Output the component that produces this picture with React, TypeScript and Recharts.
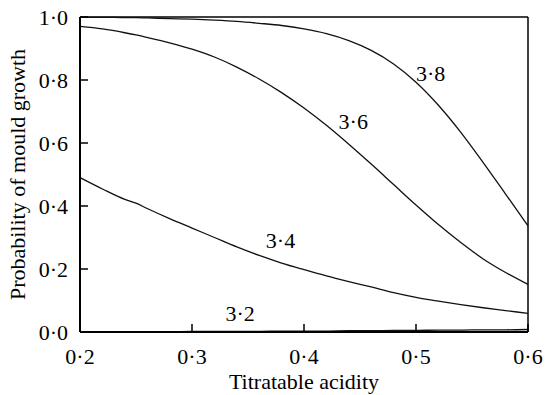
import React from "react";
import {
  LineChart,
  Line,
  XAxis,
  YAxis,
  ReferenceLine,
  ReferenceDot,
} from "recharts";

const acidity = [
  0.2, 0.22, 0.24, 0.25, 0.26, 0.28, 0.3, 0.32, 0.34, 0.36, 0.38, 0.4, 0.42,
  0.44, 0.46, 0.48, 0.5, 0.52, 0.54, 0.56, 0.58, 0.6,
];
const ph38 = [
  0.999, 0.999, 0.998, 0.998, 0.997, 0.995, 0.993, 0.99, 0.986, 0.98, 0.973,
  0.962, 0.947, 0.925, 0.894, 0.851, 0.793, 0.72, 0.634, 0.538, 0.438, 0.337,
];
const ph36 = [
  0.97, 0.962, 0.95, 0.943, 0.935, 0.918, 0.898, 0.873, 0.841, 0.803, 0.76,
  0.711, 0.656, 0.596, 0.533, 0.468, 0.403, 0.341, 0.284, 0.232, 0.189, 0.151,
];
const ph34 = [
  0.49, 0.454, 0.421, 0.409, 0.392, 0.36, 0.33, 0.3, 0.27, 0.243, 0.219,
  0.198, 0.178, 0.16, 0.143, 0.125, 0.11, 0.098, 0.087, 0.077, 0.068, 0.059,
];
const ph32 = [
  0.001, 0.001, 0.001, 0.001, 0.001, 0.001, 0.002, 0.002, 0.002, 0.002, 0.003,
  0.003, 0.003, 0.004, 0.004, 0.005, 0.005, 0.006, 0.006, 0.007, 0.007, 0.008,
];

const xTicks = [0.2, 0.3, 0.4, 0.5, 0.6];
const xTickLabels = ["0·2", "0·3", "0·4", "0·5", "0·6"];
const yTicks = [0, 0.2, 0.4, 0.6, 0.8, 1.0];
const yTickLabels = ["0·0", "0·2", "0·4", "0·6", "0·8", "1·0"];

// curve labels: [name, x, y]
const curveLabels: [string, number, number][] = [
  ["3·8", 0.513, 0.822],
  ["3·6", 0.444, 0.67],
  ["3·4", 0.379, 0.292],
  ["3·2", 0.343, 0.06],
];

const data = acidity.map((x, i) => ({
  x,
  p38: ph38[i],
  p36: ph36[i],
  p34: ph34[i],
  p32: ph32[i],
}));

const FONT = "Liberation Serif";
const textStyle = { fontSize: 22, fill: "#000", fontFamily: FONT };

export default function App() {
  return (
    <div
      style={{
        position: "absolute",
        left: 0,
        top: 0,
        width: 545,
        height: 395,
        background: "#fff",
      }}
    >
      <LineChart
        width={545}
        height={395}
        data={data}
        margin={{ top: 17, right: 17, left: 0, bottom: 0 }}
      >
        <XAxis
          dataKey="x"
          type="number"
          domain={[0.2, 0.6]}
          ticks={xTicks}
          tickFormatter={(v, i) => xTickLabels[i] ?? String(v)}
          height={63}
          tickSize={-8}
          tickMargin={24}
          tick={textStyle}
          axisLine={{ stroke: "#000", strokeWidth: 2 }}
          tickLine={{ stroke: "#000", strokeWidth: 1.5 }}
          label={{
            value: "Titratable acidity",
            position: "insideBottom",
            offset: 6,
            style: textStyle,
          }}
        />
        <YAxis
          type="number"
          domain={[0, 1]}
          ticks={yTicks}
          tickFormatter={(v, i) => yTickLabels[i] ?? String(v)}
          width={80}
          tickSize={-8}
          tickMargin={20}
          tick={textStyle}
          axisLine={{ stroke: "#000", strokeWidth: 2 }}
          tickLine={{ stroke: "#000", strokeWidth: 1.5 }}
          label={{
            value: "Probability of mould growth",
            angle: -90,
            position: "center",
            dx: -23,
            style: { ...textStyle, textAnchor: "middle" },
          }}
        />
        <ReferenceLine y={1} stroke="#000" strokeWidth={1.5} />
        <ReferenceLine x={0.6} stroke="#000" strokeWidth={1.5} />
        <Line type="monotone" dataKey="p38" stroke="#111" strokeWidth={1.3} dot={false} isAnimationActive={false} />
        <Line type="monotone" dataKey="p36" stroke="#111" strokeWidth={1.3} dot={false} isAnimationActive={false} />
        <Line type="monotone" dataKey="p34" stroke="#111" strokeWidth={1.3} dot={false} isAnimationActive={false} />
        <Line type="monotone" dataKey="p32" stroke="#111" strokeWidth={1.3} dot={false} isAnimationActive={false} />
        {curveLabels.map(([name, x, y]) => (
          <ReferenceDot
            key={name}
            x={x}
            y={y}
            r={1}
            fillOpacity={0}
            strokeOpacity={0}
            label={{
              value: name,
              position: "center",
              style: textStyle,
            }}
          />
        ))}
      </LineChart>
    </div>
  );
}
